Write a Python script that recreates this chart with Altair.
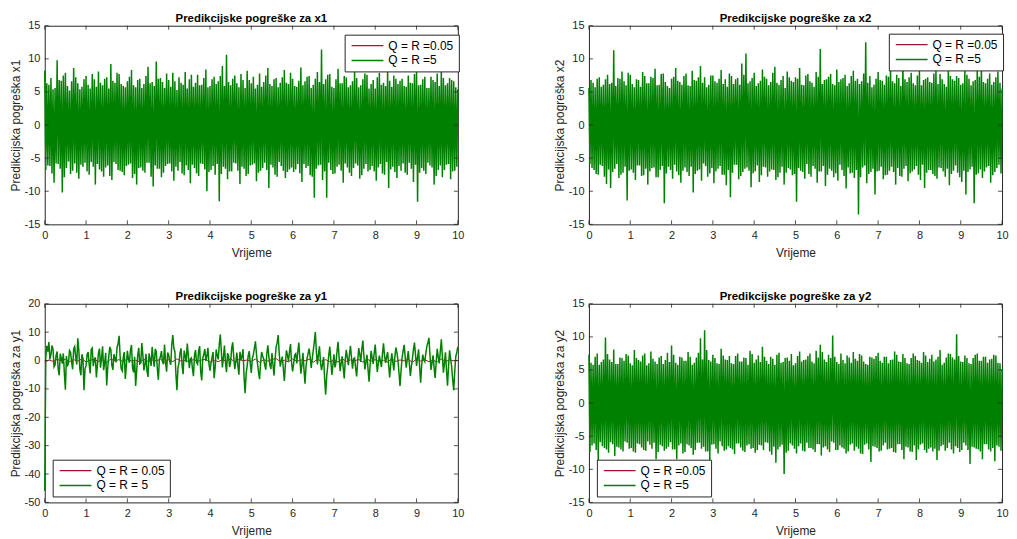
import altair as alt
import pandas as pd

# ---------------- data ----------------
x_ticks = list(range(0, 11))
y_ticks_15 = [-15, -10, -5, 0, 5, 10, 15]
y_ticks_y1 = [-50, -40, -30, -20, -10, 0, 10, 20]

labels_eq = ["Q = R =0.05", "Q = R =5"]
labels_y1 = ["Q = R = 0.05", "Q = R = 5"]

# x1: peaks in each 0.1 s step: up (t), lo (t+0.025), up2 (t+0.05), lo2 (t+0.075)
x1_up = [8.2, 6.1, 5.4, 9.8, 6.7, 7.9, 5.2, 8.6, 6.3, 5.8,
         7.4, 5.5, 6.9, 8.1, 6.0, 7.2, 9.2, 6.4, 7.7, 5.9,
         6.6, 8.3, 5.7, 7.0, 6.2, 8.8, 6.5, 9.6, 7.1, 5.6,
         6.8, 7.9, 5.3, 6.4, 8.0, 6.9, 5.8, 7.6, 6.1, 8.4,
         5.9, 7.3, 6.6, 8.9, 10.6, 6.0, 7.5, 5.7, 6.8, 8.2,
         6.3, 5.5, 7.8, 6.5, 8.6, 5.9, 7.1, 6.4, 8.3, 6.2,
         7.0, 5.8, 8.7, 6.6, 7.4, 6.1, 8.0, 11.4, 6.9, 7.7,
         5.6, 8.5, 6.3, 7.2, 6.0, 8.1, 5.7, 6.9, 7.6, 6.2,
         5.5, 7.9, 6.4, 8.4, 5.8, 7.0, 6.7, 5.9, 7.5, 6.3,
         8.0, 6.1, 7.3, 5.6, 6.8, 7.8, 8.5, 6.0, 7.1, 6.6, 5.4]
x1_lo = [-6.8, -6.2, -8.7, -5.9, -10.2, -6.5, -7.4, -5.8, -8.1, -6.3,
         -7.0, -5.6, -9.0, -6.7, -7.8, -6.1, -8.3, -5.9, -6.9, -7.6,
         -6.0, -8.0, -9.0, -6.4, -7.2, -5.7, -9.3, -6.6, -7.9, -6.2,
         -5.8, -8.4, -6.9, -7.3, -6.1, -8.8, -6.5, -7.7, -5.9, -10.0,
         -6.8, -7.5, -11.5, -6.3, -8.2, -7.0, -5.8, -8.9, -6.6, -7.4,
         -6.0, -8.5, -6.9, -5.7, -9.5, -6.4, -7.8, -6.2, -8.0, -6.7,
         -7.1, -5.9, -8.6, -6.5, -7.6, -11.0, -6.1, -8.3, -11.0, -6.8,
         -7.3, -6.0, -8.7, -6.4, -7.7, -5.8, -8.1, -6.6, -7.0, -6.2,
         -8.4, -5.9, -7.5, -9.5, -6.3, -8.0, -6.9, -7.2, -5.7, -8.6,
         -11.6, -6.5, -7.4, -6.1, -9.0, -6.8, -7.9, -6.0, -8.2, -6.9]
x1_up2 = [6.3, 7.1, 5.6, 6.8, 7.5, 5.9, 6.6, 7.2, 5.4, 6.9,
          6.1, 7.7, 5.8, 6.4, 7.0, 5.5, 6.7, 7.9, 6.2, 5.7,
          7.3, 6.0, 6.8, 5.6, 7.4, 6.3, 5.9, 7.0, 6.5, 7.8,
          5.8, 6.6, 7.2, 6.1, 5.5, 7.6, 6.4, 6.0, 7.1, 5.7,
          6.9, 6.2, 7.4, 5.9, 6.5, 7.0, 6.3, 7.7, 5.6, 6.8,
          7.3, 6.1, 5.8, 7.5, 6.2, 6.9, 5.7, 7.2, 6.4, 7.9,
          5.9, 6.7, 6.0, 7.3, 5.6, 7.0, 6.5, 6.2, 7.6, 5.8,
          6.9, 6.3, 7.4, 5.7, 6.6, 7.1, 6.0, 7.8, 5.5, 6.8,
          7.2, 6.1, 5.9, 6.7, 7.5, 6.2, 7.0, 5.8, 6.4, 7.7,
          6.0, 6.9, 5.6, 7.3, 6.5, 5.9, 7.1, 6.3, 6.8, 5.7]
x1_lo2 = [-6.1, -7.3, -5.8, -6.6, -7.9, -5.5, -6.9, -7.2, -6.0, -5.7,
          -7.5, -6.3, -5.9, -7.0, -6.4, -7.7, -5.6, -6.8, -7.1, -6.2,
          -5.8, -7.4, -6.5, -6.9, -5.7, -7.8, -6.1, -6.6, -7.2, -5.9,
          -7.0, -6.3, -5.6, -7.6, -6.8, -6.0, -7.3, -5.8, -6.7, -7.1,
          -6.2, -5.9, -7.4, -6.6, -7.0, -5.7, -6.9, -6.3, -7.7, -6.1,
          -5.8, -7.2, -6.5, -6.8, -6.0, -7.5, -5.6, -6.9, -7.1, -6.4,
          -6.7, -7.3, -5.9, -6.2, -7.8, -6.6, -6.0, -7.0, -5.7, -7.4,
          -6.3, -6.9, -5.8, -7.2, -6.5, -6.1, -7.6, -5.9, -6.8, -7.0,
          -6.4, -7.3, -5.6, -6.7, -7.1, -6.2, -5.8, -7.5, -6.6, -6.0,
          -7.2, -6.9, -5.7, -6.4, -7.7, -6.1, -6.8, -5.9, -7.0, -6.3]

x2_up = [5.6, 6.4, 7.0, 5.8, 6.9, 6.2, 11.3, 7.1, 8.1, 6.0,
         7.6, 5.7, 6.8, 8.0, 6.3, 7.3, 8.5, 6.1, 7.8, 5.9,
         7.0, 8.6, 6.5, 7.4, 6.0, 8.2, 6.7, 8.9, 7.2, 6.1,
         7.5, 6.4, 8.3, 6.9, 7.8, 6.2, 7.1, 9.3, 10.8, 6.6,
         7.9, 6.3, 8.4, 7.0, 6.5, 8.8, 6.1, 7.4, 8.1, 6.7,
         7.2, 8.6, 6.0, 7.7, 6.4, 8.0, 11.5, 6.8, 7.3, 6.2,
         8.4, 6.9, 7.6, 6.3, 8.2, 7.0, 6.6, 12.5, 7.4, 6.1,
         8.0, 6.7, 7.5, 8.9, 6.3, 7.1, 9.5, 6.5, 7.9, 6.0,
         8.3, 6.8, 7.2, 6.4, 8.5, 7.7, 6.2, 9.0, 6.9, 7.4,
         6.1, 8.2, 7.0, 6.6, 8.7, 9.0, 6.3, 7.8, 6.5, 8.1, 5.5]
x2_lo = [-5.9, -6.8, -7.5, -6.2, -8.9, -9.5, -6.6, -8.0, -7.2, -11.4,
         -6.7, -8.3, -6.1, -7.6, -9.0, -6.5, -7.9, -6.8, -11.8, -6.3,
         -8.1, -7.0, -8.7, -6.4, -7.7, -10.2, -6.9, -8.4, -6.2, -7.3,
         -8.8, -6.6, -7.5, -9.1, -10.9, -6.0, -8.2, -7.1, -6.4, -9.4,
         -7.0, -8.6, -6.3, -7.8, -6.7, -8.3, -7.2, -9.0, -6.5, -7.6,
         -11.6, -6.9, -8.1, -7.4, -6.2, -8.7, -7.0, -9.2, -6.6, -7.9,
         -8.4, -6.8, -9.6, -7.3, -8.0, -13.5, -6.4, -8.8, -7.1, -10.5,
         -6.9, -8.2, -7.5, -6.3, -9.0, -7.7, -6.6, -8.5, -7.0, -6.2,
         -8.3, -9.5, -6.8, -7.4, -8.1, -6.5, -7.8, -9.1, -6.9, -7.2,
         -8.6, -10.5, -6.7, -11.8, -7.3, -8.0, -6.4, -8.7, -7.1, -6.0]
x2_up2 = [6.8, 5.7, 7.2, 6.1, 7.6, 6.4, 5.9, 7.0, 6.6, 7.9,
          6.2, 6.9, 5.8, 7.4, 6.3, 7.1, 6.0, 7.7, 6.5, 5.6,
          7.3, 6.7, 6.1, 7.8, 5.9, 6.8, 7.2, 6.4, 5.7, 7.5,
          6.6, 7.0, 6.2, 5.8, 7.4, 6.9, 6.1, 7.6, 6.3, 7.1,
          5.9, 6.7, 7.3, 6.0, 7.9, 6.4, 6.8, 5.6, 7.2, 6.5,
          7.0, 6.1, 7.5, 6.6, 5.8, 7.3, 6.2, 6.9, 7.7, 6.0,
          6.5, 7.1, 5.9, 7.4, 6.7, 6.2, 7.8, 6.4, 5.7, 7.0,
          6.8, 6.1, 7.3, 6.6, 7.6, 5.9, 6.9, 7.2, 6.3, 7.5,
          6.0, 7.0, 6.5, 7.8, 6.2, 6.9, 5.8, 7.4, 6.7, 7.1,
          6.3, 7.6, 6.0, 6.8, 7.3, 6.5, 7.0, 6.1, 7.2, 6.4]
x2_lo2 = [-6.5, -7.4, -6.0, -7.8, -6.7, -7.1, -5.9, -7.5, -6.3, -6.9,
          -7.2, -6.1, -7.7, -6.6, -7.0, -6.4, -7.9, -6.2, -7.3, -6.8,
          -6.0, -7.6, -6.9, -7.1, -6.3, -7.4, -6.7, -5.8, -7.8, -6.5,
          -7.0, -6.2, -7.5, -6.8, -7.2, -6.0, -7.7, -6.6, -6.9, -7.3,
          -6.1, -7.6, -6.4, -7.0, -6.8, -7.9, -6.3, -7.2, -6.7, -7.4,
          -6.5, -7.1, -5.9, -7.8, -6.6, -7.0, -6.2, -7.5, -6.9, -7.3,
          -6.0, -7.7, -6.4, -7.2, -6.8, -7.9, -6.1, -7.4, -6.6, -7.0,
          -6.3, -7.6, -6.9, -7.1, -6.5, -7.8, -6.2, -7.3, -6.7, -7.5,
          -6.0, -7.2, -6.8, -7.7, -6.4, -7.0, -6.6, -7.4, -6.1, -7.9,
          -6.9, -7.1, -6.3, -7.5, -6.7, -7.0, -6.2, -7.6, -6.5, -7.3]

y2_up = [7.3, 5.8, 7.5, 6.2, 9.9, 6.6, 8.1, 5.9, 6.8, 7.4,
         6.0, 8.0, 6.5, 7.2, 5.7, 7.8, 6.3, 6.9, 5.9, 7.6,
         8.7, 6.1, 7.0, 6.4, 7.7, 5.8, 6.9, 9.8, 11.0, 6.5,
         7.3, 6.0, 8.2, 6.6, 7.1, 5.9, 7.5, 6.3, 6.8, 7.9,
         6.1, 7.2, 8.5, 6.4, 7.0, 5.8, 7.6, 6.2, 6.9, 7.4,
         6.0, 7.8, 6.5, 7.1, 6.3, 7.9, 8.8, 6.6, 7.3, 10.2,
         6.2, 7.5, 6.0, 6.9, 7.7, 6.4, 7.2, 5.9, 7.0, 6.7,
         7.6, 6.1, 7.0, 6.5, 7.8, 6.3, 7.4, 6.0, 6.8, 7.1,
         6.4, 7.7, 6.2, 7.3, 6.6, 8.0, 6.1, 7.5, 6.9, 10.4,
         6.3, 7.2, 6.0, 6.8, 7.5, 6.4, 7.0, 6.6, 7.3, 6.1, 5.2]
y2_lo = [-7.4, -6.1, -8.8, -6.5, -7.0, -5.9, -8.0, -6.7, -7.3, -6.0,
         -6.8, -7.5, -6.2, -7.1, -5.8, -6.9, -8.5, -6.3, -7.2, -6.6,
         -7.0, -8.5, -6.1, -7.4, -6.4, -7.8, -6.0, -6.9, -7.3, -9.0,
         -6.2, -7.6, -6.5, -7.0, -6.8, -7.7, -6.1, -7.2, -6.4, -6.9,
         -7.5, -6.3, -7.1, -6.0, -7.8, -9.0, -6.6, -10.7, -7.2, -6.4,
         -7.6, -6.1, -7.3, -6.8, -7.0, -6.2, -7.9, -6.5, -7.4, -6.0,
         -7.1, -6.7, -7.6, -6.3, -7.2, -6.9, -7.7, -6.1, -8.9, -6.6,
         -7.3, -6.4, -7.0, -6.8, -7.5, -6.2, -8.5, -6.7, -7.4, -8.6,
         -6.3, -7.1, -6.9, -7.3, -8.6, -6.5, -7.2, -6.0, -7.6, -6.8,
         -7.1, -6.4, -9.2, -6.7, -7.0, -8.5, -6.2, -7.3, -8.8, -6.6]
y2_up2 = [6.1, 7.0, 5.8, 6.6, 7.4, 6.2, 5.9, 6.9, 6.4, 7.2,
          5.7, 6.8, 6.3, 7.5, 6.0, 6.7, 5.9, 7.1, 6.5, 6.2,
          7.3, 5.8, 6.9, 6.4, 7.0, 6.1, 7.6, 6.6, 8.0, 6.3,
          6.8, 5.9, 7.2, 6.5, 6.0, 7.1, 6.3, 6.9, 5.8, 7.4,
          6.6, 6.2, 7.0, 5.9, 6.7, 7.3, 6.1, 6.8, 6.4, 5.7,
          7.1, 6.3, 6.6, 7.5, 6.0, 6.9, 7.7, 6.2, 6.8, 7.0,
          5.9, 6.5, 7.2, 6.1, 6.7, 7.4, 6.3, 5.8, 6.9, 7.1,
          6.4, 7.0, 6.0, 6.6, 7.3, 6.2, 6.8, 5.9, 7.5, 6.5,
          6.1, 7.2, 6.7, 6.3, 7.0, 5.8, 6.9, 7.4, 6.6, 7.1,
          6.2, 6.8, 5.9, 7.3, 6.4, 7.0, 6.1, 6.7, 7.2, 6.0]
y2_lo2 = [-6.4, -7.1, -5.9, -6.8, -7.5, -6.2, -6.6, -7.0, -5.8, -6.9,
          -7.3, -6.1, -6.7, -7.2, -6.3, -6.0, -7.4, -6.5, -6.9, -5.9,
          -7.0, -6.4, -7.6, -6.2, -6.8, -7.1, -6.0, -6.6, -7.3, -6.3,
          -6.9, -5.8, -7.2, -6.5, -7.0, -6.1, -6.7, -7.4, -6.2, -6.8,
          -7.1, -6.4, -5.9, -7.3, -6.6, -7.0, -6.3, -7.5, -6.1, -6.9,
          -6.5, -7.2, -6.0, -6.8, -7.4, -6.2, -6.7, -7.0, -5.8, -7.1,
          -6.4, -6.9, -7.3, -6.1, -6.6, -7.6, -6.3, -7.0, -6.5, -6.8,
          -7.2, -6.0, -6.9, -7.4, -6.2, -7.1, -6.6, -7.3, -6.4, -7.0,
          -6.1, -7.5, -6.7, -6.9, -7.2, -6.3, -6.8, -7.0, -6.5, -7.4,
          -6.0, -7.1, -6.6, -6.9, -7.3, -6.2, -7.0, -6.8, -6.4, -7.2]

# y1 green: samples at t = 0, 0.05, ... 10 and in-between samples at t + 0.025
y1_green = [-46.0, 5.2, 6.5, 2.1, 4.0, -1.5, 3.2, -5.2, 0.8, 2.5,
            -10.3, -2.0, 3.5, -0.5, 4.1, 1.2, 7.8, -3.0, 2.2, -10.5,
            -1.8, 3.0, -4.5, 4.4, 0.3, -6.0, 2.6, -2.5, 5.0, -1.0,
            -8.8, 1.5, 3.8, -3.3, 0.7, 4.6, 8.7, -2.8, 1.0, -6.5,
            3.4, -0.8, 5.5, -4.2, -9.0, 1.8, -1.2, 6.2, -3.5, 2.4,
            -5.8, 0.6, 4.8, -2.2, 3.1, -6.8, 1.3, -0.4, 5.6, -3.9,
            2.0, -1.5, 9.0, 3.2, -10.5, -0.9, 4.3, -4.8, 1.6, 6.0,
            -2.7, 0.9, -5.5, 3.7, -1.3, 5.1, -7.0, 2.3, -0.2, 4.5,
            -3.6, 1.1, -6.2, 3.9, 0.4, 9.2, -2.4, 5.3, -4.1, 1.7,
            -0.6, 6.4, -3.0, 2.8, -5.0, 0.2, 4.0, -11.5, -1.9, 3.3,
            -4.4, 2.1, 6.8, -1.1, -6.6, 3.0, 0.5, -3.2, 5.4, -1.7,
            2.6, -5.3, 4.7, 9.0, -2.1, 1.4, -7.2, 3.6, -0.3, 5.8,
            -3.8, 1.9, -1.0, 6.3, -4.6, 2.7, -8.2, 0.8, 4.2, -2.6,
            3.5, 10.0, -1.4, 5.0, -3.4, 1.2, -12.0, -2.0, 4.9, -5.1,
            2.2, -0.7, 6.6, -3.7, 1.5, -6.3, 3.8, -1.6, 5.2, -2.9,
            0.9, -5.6, 4.4, -0.5, 7.0, -3.1, 2.0, -7.5, 3.4, -1.2,
            5.6, -4.0, 1.7, -2.3, 6.1, -0.8, 3.0, -6.0, 2.5, -3.5,
            4.6, 0.1, -9.0, 1.0, 5.5, -2.5, 3.3, -5.4, 0.6, 6.3,
            -1.9, 3.9, -7.8, 2.1, -0.4, 5.0, 8.0, -3.3, 1.8, -6.1,
            4.1, -1.0, 7.5, -4.3, 2.9, -8.9, 3.6, -2.2, -10.5, 1.4,
            4.8]
y1_green_mid = [1.0, 3.1, 0.4, 5.3, -2.2, 1.8, -3.0, 2.4, -1.1, -4.6,
                1.6, -0.7, 2.9, -3.1, 4.9, -1.4, 3.6, -5.2, 0.7, -2.9,
                2.1, -1.3, 3.9, -2.0, 1.1, -1.5, 4.2, 0.9, -3.4, 2.7,
                -2.4, 4.8, -1.7, 2.2, -0.6, 5.9, 1.4, -3.6, 3.0, -1.8,
                0.6, 3.7, -2.6, 1.3, -3.8, 4.5, -0.9, 2.0, -1.6, -3.7,
                2.5, -1.9, 1.0, 4.1, -2.8, 0.3, 3.3, -1.3, -0.8, 2.8,
                -0.4, 5.6, 4.4, -4.8, -2.5, 2.7, -1.8, 3.5, -0.6, 2.2,
                0.5, -2.9, 1.9, -0.7, 3.4, -3.9, 0.8, 4.0, 1.6, -1.2,
                -0.9, 3.0, -2.5, 1.8, 5.7, 3.1, 1.0, -0.8, 2.6, -2.3,
                4.3, 1.2, -0.5, -1.9, 3.1, 1.5, -5.8, -4.6, 1.7, -1.1,
                0.8, 4.4, 2.2, -4.1, -0.9, 1.6, -1.5, 2.3, 1.4, -3.0,
                -1.4, 0.3, 6.2, 2.8, -0.2, -2.9, -1.5, 1.9, 3.2, -0.8,
                -1.1, 2.4, 3.0, 0.9, -1.6, -3.1, -2.0, 2.5, 1.3, 0.7,
                6.5, 3.2, 2.1, -0.6, -1.2, -6.4, -5.5, 1.8, 0.2, -1.7,
                -2.4, 3.3, 1.1, -0.9, -2.7, 0.4, 0.9, 2.2, 1.0, 0.6,
                -2.6, -0.4, 2.3, 3.9, 1.8, -0.6, -2.9, -1.8, 1.1, 2.6,
                0.5, -0.9, -0.2, 2.4, 1.7, 1.2, -1.6, -1.4, -0.5, 1.3,
                2.8, -4.3, -3.6, 3.4, 1.1, 0.5, -0.9, -2.1, 3.9, 2.0,
                1.1, -2.3, -1.5, 0.3, 2.6, 6.4, 1.9, -0.8, -2.5, -0.7,
                1.3, 3.2, 1.5, -1.0, -3.4, -2.0, 0.6, -6.8, -3.8, 3.0]
# y1 red (every 0.1 s)
y1_red = [-0.6, 0.2, -0.3, 0.4, -0.1, 0.5, -0.4, 0.3, -0.2, 0.6,
          -0.5, 0.1, 0.4, -0.3, 0.2, -0.6, 0.5, -0.1, 0.3, -0.4,
          0.6, -0.2, 0.1, -0.5, 0.4, -0.3, 0.2, -0.1, 0.5, -0.6,
          0.3, -0.4, 0.6, -0.2, 0.1, -0.5, 0.4, -0.3, 0.2, 0.5,
          -0.6, 0.1, -0.4, 0.3, -0.2, 0.6, -0.5, 0.4, -0.1, 0.2,
          -0.3, 0.5, -0.6, 0.3, -0.2, 0.4, 0.7, -0.4, 0.1, -0.5,
          0.6, -0.3, 0.2, -0.1, 0.5, -0.6, 0.4, -0.2, 0.3, -0.4,
          0.1, -0.5, 0.6, -0.3, 0.2, -0.1, 0.4, -0.6, 0.5, -0.2,
          0.3, -0.4, 0.1, -0.5, 0.6, -0.3, 0.2, -0.1, 0.4, -0.6,
          0.5, -0.2, 0.3, -0.4, 0.1, -0.5, 0.6, -0.3, 0.2, -0.1, 0.0]
# red series hidden under the green ones (every 0.2 s)
red_x1 = [0.4, -0.8, 1.1, -0.3, 0.7, -1.2, 0.5, -0.6, 0.9, -0.2,
          1.3, -0.9, 0.2, -0.5, 0.8, -1.0, 0.6, -0.4, 1.0, -0.7,
          0.3, -1.1, 0.7, -0.2, 0.5, -0.9, 1.2, -0.6, 0.1, -0.8,
          0.9, -0.3, 0.6, -1.0, 0.4, -0.5, 1.1, -0.7, 0.2, -1.2,
          0.8, -0.4, 0.5, -0.9, 1.0, -0.1, 0.7, -0.6, 0.3, -1.0, 0.2]
red_x2 = [-0.5, 0.9, -1.1, 0.3, -0.7, 1.2, -0.4, 0.6, -0.9, 0.2,
          -1.3, 0.8, -0.2, 0.5, -0.8, 1.0, -0.6, 0.4, -1.0, 0.7,
          -0.3, 1.1, -0.7, 0.2, -0.5, 0.9, -1.2, 0.6, -0.1, 0.8,
          -0.9, 0.3, -0.6, 1.0, -0.4, 0.5, -1.1, 0.7, -0.2, 1.2,
          -0.8, 0.4, -0.5, 0.9, -1.0, 0.1, -0.7, 0.6, -0.3, 1.0, -0.2]
red_y2 = [0.6, -0.4, 0.9, -1.0, 0.3, -0.7, 1.1, -0.2, 0.5, -0.9,
          0.8, -0.3, 1.2, -0.6, 0.2, -1.1, 0.7, -0.5, 0.4, -0.8,
          1.0, -0.1, 0.6, -1.2, 0.3, -0.4, 0.9, -0.7, 0.5, -1.0,
          0.2, -0.6, 1.1, -0.3, 0.7, -0.9, 0.4, -0.2, 0.8, -1.1,
          0.6, -0.5, 1.0, -0.4, 0.3, -0.8, 0.9, -0.1, 0.5, -0.7, 0.1]

# ---------------- styling ----------------
RED = "#A2142F"
GREEN = "#008000"
INK = "#262626"
W, H = 416, 200
FONT = "Liberation Sans"


def weave(up, lo, up2, lo2):
    t, v = [], []
    for i in range(len(lo)):
        base = i * 0.1
        for k, arr in enumerate((up, lo, up2, lo2)):
            t.append(round(base + k * 0.025, 4))
            v.append(arr[i])
    t.append(round(len(lo) * 0.1, 4))
    v.append(up[len(lo)])
    return t, v


def weave2(main, mid, step):
    t, v = [], []
    for i in range(len(mid)):
        t.append(round(i * step, 4)); v.append(main[i])
        t.append(round(i * step + step / 2, 4)); v.append(mid[i])
    t.append(round(len(mid) * step, 4)); v.append(main[len(mid)])
    return t, v


def evenly(vals, step):
    return [round(i * step, 4) for i in range(len(vals))]


def panel(title, ytitle, ydomain, yticks, g_t, g_v, r_t, r_v, labels, lx, ly):
    xenc = alt.X("t:Q", scale=alt.Scale(domain=[0, 10], nice=False, zero=False),
                 axis=alt.Axis(values=x_ticks, title="Vrijeme", labelExpr="datum.value + ''"))
    yenc = alt.Y("e:Q", scale=alt.Scale(domain=ydomain, nice=False, zero=False),
                 axis=alt.Axis(values=yticks, title=ytitle, labelExpr="datum.value + ''"))
    color = alt.Color("s:N", scale=alt.Scale(domain=labels, range=[RED, GREEN]),
                      legend=alt.Legend(title=None, orient="none", legendX=lx, legendY=ly,
                                        symbolType="M-1,0H7", symbolSize=64,
                                        symbolStrokeWidth=1.3, symbolFillColor="transparent",
                                        labelFontSize=12,
                                        labelColor="black", labelFont=FONT,
                                        padding=5, rowPadding=3, labelOffset=27,
                                        strokeColor=INK, fillColor="white",
                                        cornerRadius=0))
    red_df = pd.DataFrame({"t": r_t, "e": r_v, "s": labels[0]})
    green_df = pd.DataFrame({"t": g_t, "e": g_v, "s": labels[1]})
    red = alt.Chart(red_df).mark_line(strokeWidth=1).encode(x=xenc, y=yenc, color=color)
    green = alt.Chart(green_df).mark_line(strokeWidth=1.5).encode(x=xenc, y=yenc, color=color)
    xt = pd.DataFrame({"t": x_ticks})
    yt = pd.DataFrame({"e": yticks})
    tick = dict(color=INK, strokeWidth=0.8)
    bottom = alt.Chart(xt).mark_rule(**tick).encode(x=xenc, y=alt.value(H), y2=alt.value(H - 4))
    top = alt.Chart(xt).mark_rule(**tick).encode(x=xenc, y=alt.value(0), y2=alt.value(4))
    left = alt.Chart(yt).mark_rule(**tick).encode(y=yenc, x=alt.value(0), x2=alt.value(4))
    right = alt.Chart(yt).mark_rule(**tick).encode(y=yenc, x=alt.value(W), x2=alt.value(W - 4))
    return alt.layer(red, green, bottom, top, left, right).properties(
        width=W, height=H, title=alt.Title(title))


gx1_t, gx1_v = weave(x1_up, x1_lo, x1_up2, x1_lo2)
gx2_t, gx2_v = weave(x2_up, x2_lo, x2_up2, x2_lo2)
gy2_t, gy2_v = weave(y2_up, y2_lo, y2_up2, y2_lo2)
gy1_t, gy1_v = weave2(y1_green, y1_green_mid, 0.05)

p1 = panel("Predikcijske pogreške za x1", "Predikcijska pogreška x1", [-15, 15], y_ticks_15,
           gx1_t, gx1_v, evenly(red_x1, 0.2), red_x1, labels_eq, 302, 9)
p2 = panel("Predikcijske pogreške za x2", "Predikcijska pogreška x2", [-15, 15], y_ticks_15,
           gx2_t, gx2_v, evenly(red_x2, 0.2), red_x2, labels_eq, 302, 8)
p3 = panel("Predikcijske pogreške za y1", "Predikcijska pogreška za y1", [-50, 20], y_ticks_y1,
           gy1_t, gy1_v, evenly(y1_red, 0.1), y1_red, labels_y1, 8, 157)
p4 = panel("Predikcijske pogreške za y2", "Predikcijska pogreška za y2", [-15, 15], y_ticks_15,
           gy2_t, gy2_v, evenly(red_y2, 0.2), red_y2, labels_eq, 8, 157)

chart = (
    alt.concat(p1, p2, p3, p4, columns=2, spacing={"row": 32, "column": 88})
    .resolve_scale(color="independent")
    .properties(padding={"left": 0, "top": 3, "right": 0, "bottom": 0})
    .configure(font=FONT)
    .configure_view(stroke=INK, strokeWidth=1)
    .configure_axis(domain=False, ticks=False, grid=False, labelFontSize=11,
                    labelColor=INK, labelFont=FONT, titleFont=FONT,
                    titleFontSize=12, titleFontWeight="normal", titleColor=INK,
                    labelPadding=5, labelFlush=False)
    .configure_axisX(titlePadding=7)
    .configure_axisY(titlePadding=2)
    .configure_title(fontSize=11.5, fontWeight="bold", color="black", offset=-5,
                     anchor="middle", font=FONT)
)

chart.save("out.html", embed_options={"renderer": "svg", "actions": False})
